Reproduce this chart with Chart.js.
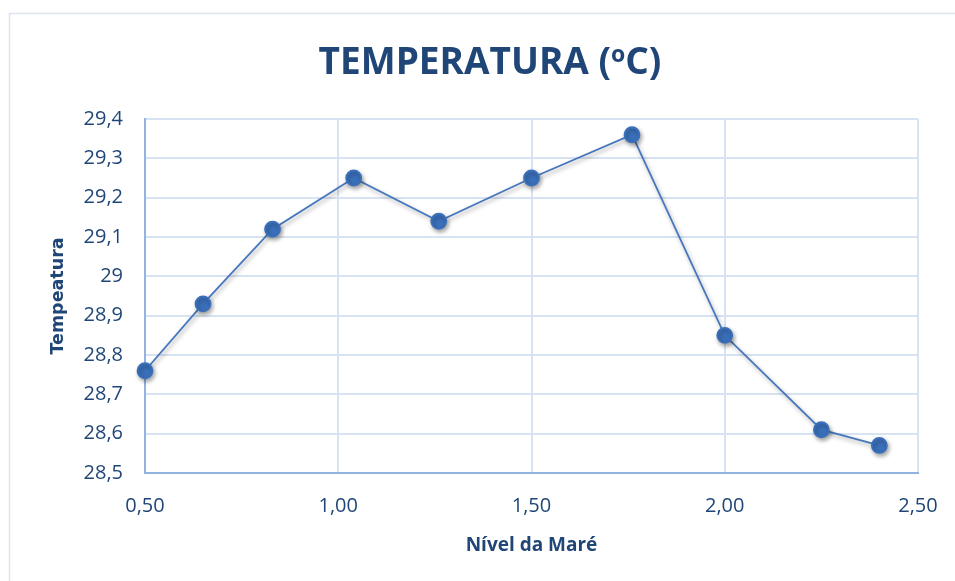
<!DOCTYPE html>
<html>
<head>
<meta charset="utf-8">
<script src="https://cdn.jsdelivr.net/npm/chart.js@4/dist/chart.umd.min.js"></script>
<style>
  html, body { margin: 0; padding: 0; background: #ffffff; }
  #wrap { width: 955px; height: 581px; position: relative; }
</style>
</head>
<body>
<div id="wrap"><canvas id="chart" width="955" height="581"></canvas></div>
<script>
// Tide level (m) and water temperature (°C)
const nivelMare = [0.50, 0.65, 0.83, 1.04, 1.26, 1.50, 1.76, 2.00, 2.25, 2.40];
const temperatura = [28.76, 28.93, 29.12, 29.25, 29.14, 29.25, 29.36, 28.85, 28.61, 28.57];

const yTickLabels = ['28,5', '28,6', '28,7', '28,8', '28,9', '29', '29,1', '29,2', '29,3', '29,4'];
const xTickLabels = ['0,50', '1,00', '1,50', '2,00', '2,50'];

const titleText = ['TEMPERATURA (', 'o', 'C)'];
const textColor = '#1f4677';

const points = nivelMare.map((x, i) => ({ x: x, y: temperatura[i] }));

// Frame + title drawn on the canvas
const framePlugin = {
  id: 'frame',
  beforeDraw(chart) {
    const ctx = chart.ctx;
    ctx.save();
    ctx.fillStyle = '#ffffff';
    ctx.fillRect(0, 0, chart.width, chart.height);
    ctx.strokeStyle = '#dbe4ef';
    ctx.lineWidth = 1.5;
    ctx.strokeRect(9.5, 13.5, chart.width + 20, chart.height + 20);
    ctx.restore();
  },
  afterDraw(chart) {
    const ctx = chart.ctx;
    ctx.save();
    ctx.fillStyle = textColor;
    ctx.textBaseline = 'alphabetic';
    const big = 'bold 37px "Open Sans"';
    const small = 'bold 23px "Open Sans"';
    ctx.font = big;
    const w1 = ctx.measureText(titleText[0]).width;
    const w3 = ctx.measureText(titleText[2]).width;
    ctx.font = small;
    const w2 = ctx.measureText(titleText[1]).width;
    const total = w1 + w2 + w3;
    let x = 490 - total / 2;
    const base = 74;
    ctx.font = big;
    ctx.fillText(titleText[0], x, base);
    x += w1;
    ctx.font = small;
    ctx.fillText(titleText[1], x, base - 12);
    x += w2;
    ctx.font = big;
    ctx.fillText(titleText[2], x, base);
    ctx.restore();
  }
};

// Soft drop shadow under the line and markers
const shadowPlugin = {
  id: 'markerShadow',
  beforeDatasetsDraw(chart) {
    const ctx = chart.ctx;
    ctx.save();
    ctx.shadowColor = 'rgba(0,0,0,0.35)';
    ctx.shadowBlur = 4;
    ctx.shadowOffsetX = 1.5;
    ctx.shadowOffsetY = 2.5;
  },
  afterDatasetsDraw(chart) {
    chart.ctx.restore();
  }
};

new Chart(document.getElementById('chart'), {
  type: 'scatter',
  data: {
    datasets: [{
      label: 'Temperatura',
      data: points,
      showLine: true,
      clip: false,
      borderColor: '#4677be',
      borderWidth: 1.8,
      backgroundColor: '#3a70ba',
      pointBackgroundColor: '#3a70ba',
      pointBorderColor: '#3a70ba',
      pointRadius: 7.5,
      pointHoverRadius: 7.5,
      tension: 0
    }]
  },
  options: {
    responsive: false,
    animation: false,
    layout: { padding: { top: 119, left: 0, right: 37, bottom: 0 } },
    plugins: {
      legend: { display: false },
      tooltip: { enabled: false },
      title: { display: false }
    },
    scales: {
      x: {
        type: 'linear',
        min: 0.5,
        max: 2.5,
        afterFit(scale) {
          scale.height = 108;
          scale.paddingLeft = 0;
          scale.paddingRight = 0;
        },
        afterBuildTicks(scale) {
          scale.ticks = xTickLabels.map(t => ({ value: parseFloat(t.replace(',', '.')) }));
        },
        ticks: {
          stepSize: 0.5,
          padding: 21,
          color: textColor,
          font: { family: '"Open Sans"', size: 20 },
          callback(value, index) { return xTickLabels[index]; }
        },
        grid: { color: '#d7e3f2', lineWidth: 2, drawTicks: false },
        border: { color: '#8fb4e2', width: 2 },
        title: {
          display: true,
          text: 'Nível da Maré',
          color: textColor,
          font: { family: '"Open Sans"', size: 19, weight: 'bold' },
          padding: { top: 0, bottom: 24 }
        }
      },
      y: {
        type: 'linear',
        min: 28.5,
        max: 29.4,
        afterFit(scale) {
          scale.width = 145;
          scale.paddingTop = 0;
          scale.paddingBottom = 0;
        },
        afterBuildTicks(scale) {
          scale.ticks = yTickLabels.map(t => ({ value: parseFloat(t.replace(',', '.')) }));
        },
        ticks: {
          padding: 22,
          color: textColor,
          font: { family: '"Open Sans"', size: 20 },
          callback(value, index) { return yTickLabels[index]; }
        },
        grid: { color: '#d7e3f2', lineWidth: 2, drawTicks: false },
        border: { color: '#8fb4e2', width: 2 },
        title: {
          display: true,
          text: 'Tempeatura',
          color: textColor,
          font: { family: '"DejaVu Sans"', size: 17.5, weight: 'bold' },
          padding: { top: 48, bottom: 0 }
        }
      }
    }
  },
  plugins: [framePlugin, shadowPlugin]
});
</script>
</body>
</html>
